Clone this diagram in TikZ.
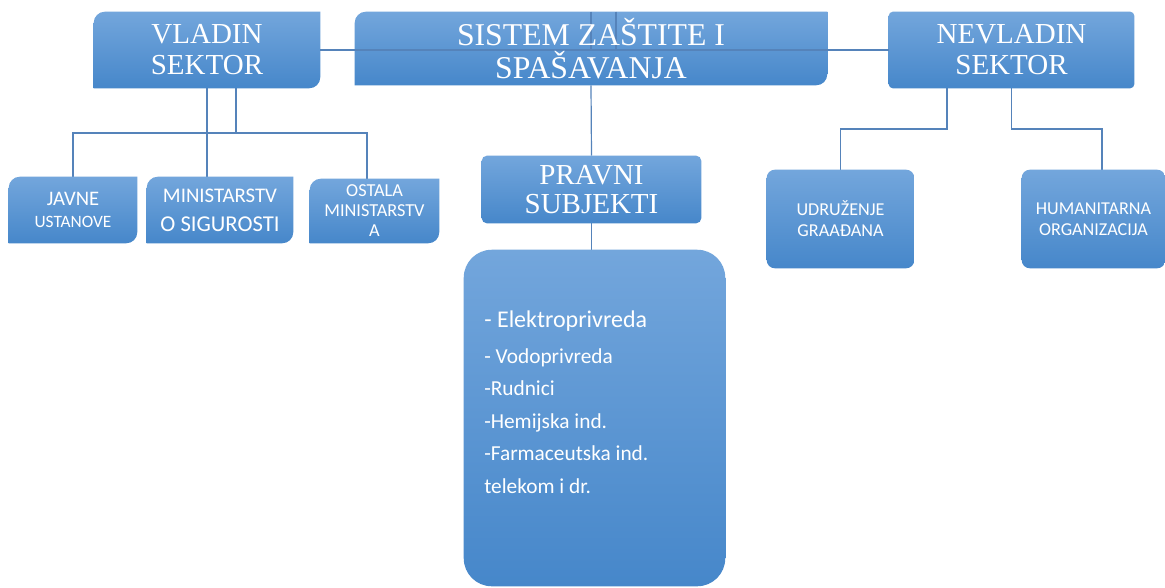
\documentclass[tikz,border=0pt]{standalone}
\usepackage{fontspec}
\setmainfont{Liberation Serif}
\newfontfamily\calfont{Carlito}
\usetikzlibrary{calc}
\pgfdeclarelayer{bglayer}
\pgfdeclarelayer{connlayer}
\pgfdeclarelayer{boxlayer}
\pgfsetlayers{bglayer,connlayer,boxlayer,main}
\definecolor{topc}{HTML}{73A6DC}
\definecolor{botc}{HTML}{4687CA}
\definecolor{linec}{HTML}{5583BA}
\tikzset{
  lbl/.style={inner sep=0pt, text=white, align=center},
  boxshade/.style={top color=topc, bottom color=botc, draw=none},
  conn/.style={draw=linec, line width=0.9pt},
  serifA/.style={font=\fontsize{21.75pt}{23.25pt}\selectfont},
}
% rounded top-left and bottom-right corners (radius #2 in picture units), square others
\newcommand{\diagshape}[2]{%
  \path[boxshade]
    ($(#1.north west)+(0,#2)$)
      .. controls ($(#1.north west)+(0,0.448*#2)$) and ($(#1.north west)+(0.448*#2,0)$) ..
    ($(#1.north west)+(#2,0)$) -- (#1.north east) -- ($(#1.south east)+(0,-#2)$)
      .. controls ($(#1.south east)+(0,-0.448*#2)$) and ($(#1.south east)+(-0.448*#2,0)$) ..
    ($(#1.south east)+(-#2,0)$) -- (#1.south west) -- cycle;}
\newcommand{\roundshape}[2]{\path[boxshade, rounded corners=#2] (#1.north west) rectangle (#1.south east);}
\begin{document}
\begin{tikzpicture}[x=0.75pt, y=-0.75pt]
\useasboundingbox (0,0) rectangle (1165,587);
\begin{pgfonlayer}{bglayer}
\fill[white] (0,0) rectangle (1165,587);
\end{pgfonlayer}

% top row
\node[lbl, serifA, minimum width=169.5pt, minimum height=57pt] (vladin) at (207,50) {VLADIN\\SEKTOR};
\node[lbl, font=\fontsize{23.8pt}{24.75pt}\selectfont, minimum width=354pt, minimum height=54.75pt] (sistem) at (591,48.5) {SISTEM ZAŠTITE I\\SPAŠAVANJA};
\node[lbl, serifA, minimum width=183.75pt, minimum height=57pt] (nevladin) at (1011.5,50) {NEVLADIN\\SEKTOR};

% government children
\node[lbl, font=\calfont\fontsize{13pt}{16.5pt}\selectfont, minimum width=96pt, minimum height=49.5pt] (javne) at (73,210) {{\fontsize{15.5pt}{16.5pt}\selectfont JAVNE}\\USTANOVE};
\node[lbl, font=\calfont\fontsize{15.6pt}{21.75pt}\selectfont, minimum width=109.5pt, minimum height=49.5pt] (ministarstvo) at (220,210) {MINISTARSTV\\{\fontsize{17pt}{21.75pt}\selectfont O SIGUROSTI}};
\node[lbl, font=\calfont\fontsize{13.7pt}{15pt}\selectfont, minimum width=96.75pt, minimum height=48pt] (ostala) at (374.5,211) {OSTALA\\MINISTARSTV\\A};

% legal subjects
\node[lbl, font=\fontsize{21.75pt}{22pt}\selectfont, minimum width=164.25pt, minimum height=50.25pt] (pravni) at (591.5,189.5) {PRAVNI\\SUBJEKTI};
\node[lbl, minimum width=195.75pt, minimum height=252pt] (big) at (594.5,418) {};
\node[lbl, align=left, anchor=north west, font=\calfont\fontsize{16pt}{24.4pt}\selectfont] (biglist) at (484,311)
  {{\fontsize{18pt}{24pt}\selectfont - Elektroprivreda}\\[2pt]- Vodoprivreda\\-Rudnici\\-Hemijska ind.\\-Farmaceutska ind.\\telekom i dr.};

% non-government children
\node[lbl, font=\calfont\fontsize{13.6pt}{15.75pt}\selectfont, minimum width=110.25pt, minimum height=73.5pt] (udruzenje) at (840.5,219) {UDRUŽENJE\\GRAAĐANA};
\node[lbl, font=\calfont\fontsize{13.6pt}{15.75pt}\selectfont, minimum width=107.25pt, minimum height=73.5pt] (humanitarna) at (1093.5,219) {HUMANITARNA\\ORGANIZACIJA};

% helper coordinates
\coordinate (vbus) at (236,133);
\coordinate (ostin) at (367,133);
\coordinate (nbusl) at (947,129);
\coordinate (humin) at (1102,129);

\begin{pgfonlayer}{connlayer}
  \draw[conn] (vladin.south) -- (vladin.south |- ministarstvo.north);
  \draw[conn] (vbus |- vladin.south) -- (vbus);
  \draw[conn] (javne.north) |- (ostin) -- (ostin |- ostala.north);
  \draw[conn] (sistem.south) -- (pravni.north);
  \draw[conn] (pravni.south) -- (pravni.south |- big.north);
  \draw[conn] (nbusl |- nevladin.south) -- (nbusl) -| (udruzenje.north);
  \draw[conn] (nevladin.south) -- (nevladin.south |- humin) -- (humin) -- (humin |- humanitarna.north);
\end{pgfonlayer}

\begin{pgfonlayer}{boxlayer}
  \diagshape{vladin}{11}
  \diagshape{sistem}{11}
  \roundshape{nevladin}{3pt}
  \diagshape{javne}{11}
  \diagshape{ministarstvo}{11}
  \diagshape{ostala}{11}
  \roundshape{pravni}{3.75pt}
  \roundshape{big}{21pt}
  \roundshape{udruzenje}{6pt}
  \roundshape{humanitarna}{6pt}
  % lines lying over the central box
  \draw[conn] (vladin.east) -- (nevladin.west);
  \draw[conn] (sistem.north) -- (sistem.north |- vladin.east);
  \draw[conn] ([xshift=18.75pt]sistem.north) -- ([xshift=18.75pt]sistem.north |- vladin.east);
\end{pgfonlayer}
\end{tikzpicture}
\end{document}
